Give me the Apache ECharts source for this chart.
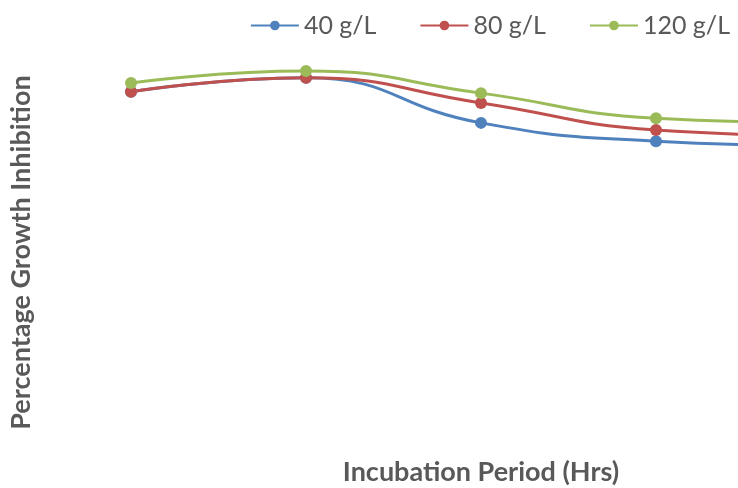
<!DOCTYPE html>
<html><head><meta charset="utf-8">
<script src="https://cdn.jsdelivr.net/npm/echarts@6/dist/echarts.min.js"></script>
<style>html,body{margin:0;padding:0;background:#fff}#c{width:738px;height:488px}</style>
</head><body><div id="c"></div>
<script>
const categories = ['6', '12', '18', '24', '30'];
const seriesNames = ['40 g/L', '80 g/L', '120 g/L'];
const values40 = [87.8, 91.1, 80.5, 76.2, 75.1];
const values80 = [87.8, 91.1, 85.2, 78.8, 77.4];
const values120 = [89.9, 92.7, 87.5, 81.6, 80.5];
const colors = ['#4F81BD', '#C0504D', '#9BBB59'];
const font = 'Lato, sans-serif';

const chart = echarts.init(document.getElementById('c'));
const mk = (name, data, color) => ({
  name, type: 'line', data, smooth: 0.5,
  symbol: 'circle', symbolSize: 12,
  lineStyle: { width: 3, color }, itemStyle: { color },
  clip: false
});
chart.setOption({
  animation: false,
  legend: {
    top: 8, right: 3, itemWidth: 48, itemHeight: 12, itemGap: 43,
    textStyle: { fontFamily: font, fontSize: 25, color: '#595959' },
    data: seriesNames
  },
  grid: { left: 131, width: 700, top: 40, bottom: 23, containLabel: false, outerBoundsMode: 'none' },
  xAxis: {
    type: 'category', data: categories, boundaryGap: false,
    axisLine: { show: false }, axisTick: { show: false }, axisLabel: { show: false },
    name: 'Incubation Period (Hrs)', nameLocation: 'middle', nameGap: -6,
    nameTextStyle: { fontFamily: font, fontSize: 27, fontWeight: 'bold', color: '#595959' }
  },
  yAxis: {
    type: 'value', min: 0, max: 100,
    axisLine: { show: false }, axisTick: { show: false }, axisLabel: { show: false },
    splitLine: { show: false },
    name: 'Percentage Growth Inhibition', nameLocation: 'middle', nameGap: 96,
    nameTextStyle: { fontFamily: font, fontSize: 27, fontWeight: 'bold', color: '#595959' }
  },
  series: [mk(seriesNames[0], values40, colors[0]), mk(seriesNames[1], values80, colors[1]), mk(seriesNames[2], values120, colors[2])]
});
</script></body></html>
